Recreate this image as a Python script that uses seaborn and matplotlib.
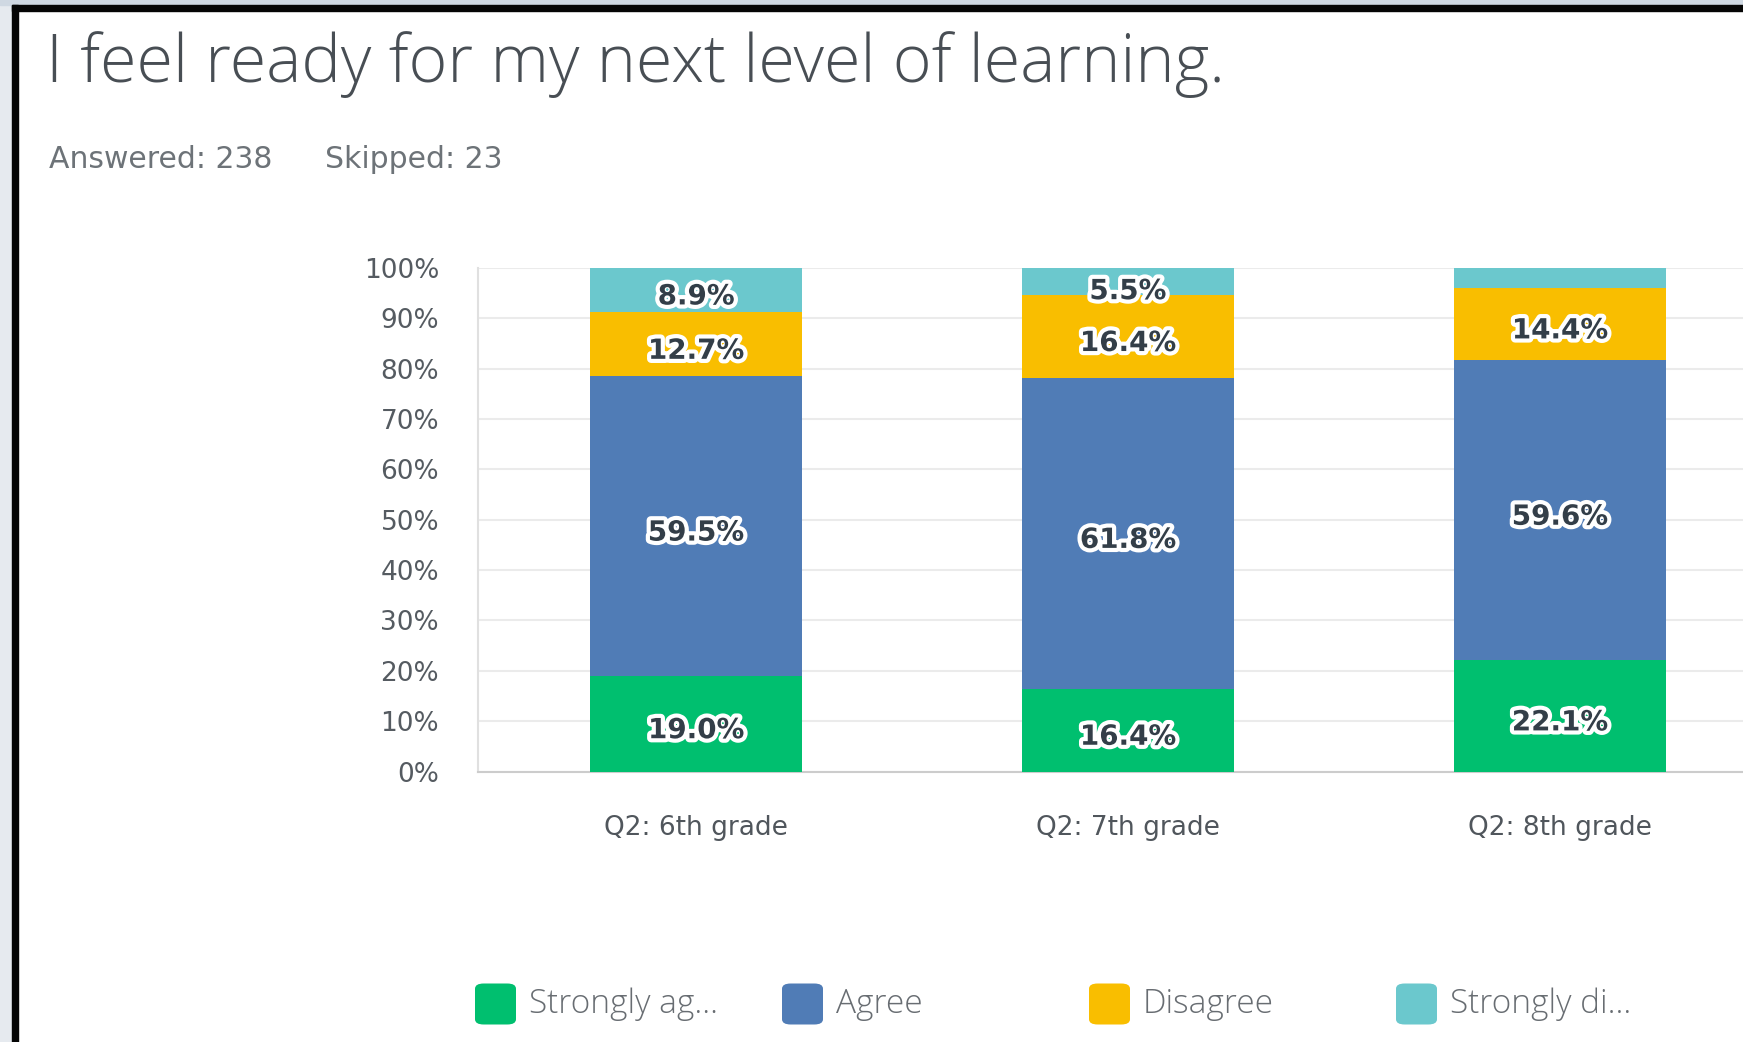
import matplotlib
matplotlib.use("Agg")
import matplotlib.pyplot as plt
import matplotlib.patheffects as pe
from matplotlib.patches import Rectangle, FancyBboxPatch
import numpy as np
import seaborn as sns

# ---- data ----
grades = ["Q2: 6th grade", "Q2: 7th grade", "Q2: 8th grade"]
responses = ["Strongly agree", "Agree", "Disagree", "Strongly disagree"]
legend_labels = ["Strongly ag...", "Agree", "Disagree", "Strongly di..."]
strongly_agree = [19.0, 16.4, 22.1]
agree = [59.5, 61.8, 59.6]
disagree = [12.7, 16.4, 14.4]
strongly_disagree = [8.9, 5.5, 3.9]
yticks = [0, 10, 20, 30, 40, 50, 60, 70, 80, 90, 100]
title = "I feel ready for my next level of learning."
answered_text = "Answered: 238"
skipped_text = "Skipped: 23"

colors = ["#00bf6f", "#507cb6", "#f9be00", "#6bc8cd"]
series = [strongly_agree, agree, disagree, strongly_disagree]

sns.set_theme(style="white")
plt.rcParams["font.family"] = ["DejaVu Sans"]

W, H = 1743, 1042
fig = plt.figure(figsize=(W / 100, H / 100), dpi=100, facecolor="white")

# screenshot frame
fig.patches.append(Rectangle((0, 0), 12 / W, 1, transform=fig.transFigure, color="#e6eaef", zorder=0))
fig.patches.append(Rectangle((0, 1 - 5 / H), 1, 5 / H, transform=fig.transFigure, color="#cfd8e2", zorder=0))
fig.patches.append(Rectangle((12 / W, 0), 6 / W, 1 - 5 / H, transform=fig.transFigure, color="#050505", zorder=1))
fig.patches.append(Rectangle((12 / W, 1 - 11 / H), 1, 6 / H, transform=fig.transFigure, color="#050505", zorder=1))

# axes placement
ax_left, ax_right = 478 / W, 1.0
ax_bottom, ax_top = 1 - 771.5 / H, 1 - 268 / H
ax = fig.add_axes([ax_left, ax_bottom, ax_right - ax_left, ax_top - ax_bottom])

bottom = np.zeros(len(grades))
for vals, col in zip(series, colors):
    sns.barplot(x=grades, y=vals, bottom=bottom, color=col, width=0.49,
                errorbar=None, linewidth=0, edgecolor="none", saturation=1,
                ax=ax, zorder=3)
    for i, v in enumerate(vals):
        if v >= 5:
            ypos = min(bottom[i] + v / 2 - 1.3, 95.4)
            ax.text(i, ypos, f"{v:.1f}%", ha="center", va="center",
                    fontsize=20, fontweight="bold", color="#333e48", zorder=5,
                    path_effects=[pe.withStroke(linewidth=6, foreground="white")])
    bottom = bottom + np.array(vals)

ax.set_xlim(-0.505, (W - 696) / 432)
ax.set_ylim(0, 100)
ax.set_yticks(yticks)
ax.set_yticklabels([f"{t}%" for t in yticks], fontsize=19, color="#555b61")
ax.tick_params(axis="y", length=0, pad=28)
ax.tick_params(axis="x", length=0, pad=31, labelsize=19, labelcolor="#50565c")
ax.set_xlabel("")
ax.set_ylabel("")
ax.grid(axis="y", color="#ebebeb", linewidth=1.5, zorder=0)
ax.set_axisbelow(True)
for s in ["top", "right"]:
    ax.spines[s].set_visible(False)
ax.spines["left"].set_color("#e0e0e0")
ax.spines["left"].set_linewidth(1.5)
ax.spines["bottom"].set_color("#cccccc")
ax.spines["bottom"].set_linewidth(1.5)

# title and subtitle
fig.text(46 / W, 1 - 82 / H, title, fontsize=47.8, fontweight="light", color="#484e54",
         ha="left", va="baseline", family=["Open Sans", "DejaVu Sans"])
fig.text(49 / W, 1 - 168 / H, answered_text, fontsize=21.5, color="#6d7378", ha="left", va="baseline")
fig.text(325 / W, 1 - 168 / H, skipped_text, fontsize=21.5, color="#6d7378", ha="left", va="baseline")

# legend
sq = 41
for k, (lab, col) in enumerate(zip(legend_labels, colors)):
    x0 = 475 + k * 307
    yc = 1004
    fig.patches.append(FancyBboxPatch((x0 / W, (H - yc - sq / 2) / H), sq / W, sq / H,
                                      boxstyle="round,pad=0,rounding_size=0.005",
                                      transform=fig.transFigure, facecolor=col,
                                      edgecolor="none", zorder=3))
    fig.text((x0 + sq + 13) / W, 1 - yc / H, lab, fontsize=24, fontweight="light",
             color="#686d72", ha="left", va="center", family=["Open Sans", "DejaVu Sans"])

fig.savefig("out.png", dpi=100, facecolor="white")
